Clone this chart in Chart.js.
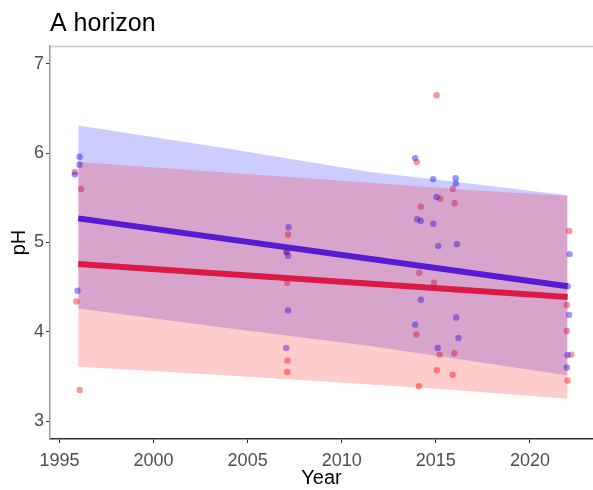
<!DOCTYPE html>
<html>
<head>
<meta charset="utf-8">
<script src="https://cdn.jsdelivr.net/npm/chart.js@4"></script>
<style>
html,body{margin:0;padding:0;background:#fff;overflow:hidden;}
#wrap{width:593px;height:490px;position:relative;}
canvas{display:block;}
</style>
</head>
<body>
<div id="wrap"><canvas id="c" width="593" height="490"></canvas></div>
<script>
// ---- data ----
const chartTitle = "A horizon";
const xTicks = [1995, 2000, 2005, 2010, 2015, 2020];
const yTicks = [3, 4, 5, 6, 7];

const fitYears = [1996, 2022];
const blueFit = [5.27, 4.51];
const redFit = [4.76, 4.39];

const bandYears = [1996, 2004, 2011.5, 2016, 2022];
const blueUpper = [6.31, 6.05, 5.79, 5.68, 5.53];
const blueLower = [4.26, 4.04, 3.84, 3.70, 3.51];
const redUpper = [5.90, 5.78, 5.67, 5.60, 5.52];
const redLower = [3.61, 3.51, 3.41, 3.35, 3.25];

const blueX = [1996.07, 1996.07, 1995.82, 1995.96,
  2007.18, 2007.05, 2007.15, 2007.15, 2007.05,
  2013.9, 2014.86, 2016.05, 2016.06, 2015.04, 2014.01, 2014.2, 2014.86, 2015.13, 2016.12, 2014.2, 2016.08, 2013.9, 2016.2, 2015.1,
  2022.1, 2022.0, 2022.08, 2022.0, 2021.96];
const blueY = [5.96, 5.87, 5.76, 4.46,
  5.17, 4.89, 4.85, 4.24, 3.82,
  5.945, 5.71, 5.72, 5.66, 5.51, 5.26, 5.24, 5.21, 4.96, 4.98, 4.36, 4.16, 4.08, 3.93, 3.82,
  4.87, 4.51, 4.19, 3.74, 3.60];

const redX = [1995.82, 1996.15, 1995.9, 1996.07,
  2007.15, 2007.1, 2007.1, 2007.12, 2007.1,
  2015.04, 2013.99, 2015.9, 2015.23, 2016.0, 2014.2, 2014.12, 2014.9, 2016.1, 2013.97, 2015.2, 2015.98, 2015.05, 2015.89, 2014.1,
  2022.08, 2021.96, 2021.96, 2022.2, 2022.0];
const redY = [5.79, 5.60, 4.34, 3.35,
  5.09, 4.90, 4.55, 3.68, 3.55,
  6.65, 5.90, 5.60, 5.49, 5.44, 5.40, 4.66, 4.55, 4.47, 3.97, 3.745, 3.76, 3.57, 3.52, 3.39,
  5.13, 4.30, 4.01, 3.745, 3.455];

// ---- build ----
const pts = (xs, ys) => xs.map((x, i) => ({x: x, y: ys[i]}));
const FONT = "'Liberation Sans', Arial, sans-serif";

const titlePlugin = {
  id: 'titleAndFrame',
  afterDraw(chart) {
    const ctx = chart.ctx, a = chart.chartArea;
    ctx.save();
    ctx.strokeStyle = '#c8c8c8';
    ctx.lineWidth = 1.5;
    ctx.beginPath();
    ctx.moveTo(a.left, a.top + 0.5);
    ctx.lineTo(chart.width, a.top + 0.5);
    ctx.stroke();
    ctx.fillStyle = '#000';
    ctx.font = "25px " + FONT;
    ctx.textBaseline = 'alphabetic';
    ctx.textAlign = 'left';
    ctx.fillText(chartTitle, a.left, 31);
    ctx.restore();
  }
};

new Chart(document.getElementById('c'), {
  type: 'scatter',
  data: {
    datasets: [
      { label: 'blue pts', data: pts(blueX, blueY), pointRadius: 3.2, pointBorderWidth: 0,
        backgroundColor: 'rgba(0,0,255,0.42)', showLine: false, order: 10 },
      { label: 'red pts', data: pts(redX, redY), pointRadius: 3.2, pointBorderWidth: 0,
        backgroundColor: 'rgba(255,0,0,0.42)', showLine: false, order: 10 },
      { label: 'blue upper', data: pts(bandYears, blueUpper), showLine: true, borderWidth: 0,
        pointRadius: 0, borderColor: 'rgba(0,0,0,0)', backgroundColor: 'rgba(0,0,255,0.2)',
        fill: 3, order: 6 },
      { label: 'blue lower', data: pts(bandYears, blueLower), showLine: true, borderWidth: 0,
        pointRadius: 0, borderColor: 'rgba(0,0,0,0)', fill: false, order: 6 },
      { label: 'red upper', data: pts(bandYears, redUpper), showLine: true, borderWidth: 0,
        pointRadius: 0, borderColor: 'rgba(0,0,0,0)', backgroundColor: 'rgba(255,0,0,0.2)',
        fill: 5, order: 5 },
      { label: 'red lower', data: pts(bandYears, redLower), showLine: true, borderWidth: 0,
        pointRadius: 0, borderColor: 'rgba(0,0,0,0)', fill: false, order: 5 },
      { label: 'blue fit', data: pts(fitYears, blueFit), showLine: true, borderWidth: 6,
        borderColor: '#561bd3', pointRadius: 0, fill: false, borderCapStyle: 'butt', order: 2 },
      { label: 'red fit', data: pts(fitYears, redFit), showLine: true, borderWidth: 6,
        borderColor: '#dc1a48', pointRadius: 0, fill: false, borderCapStyle: 'butt', order: 1 }
    ]
  },
  options: {
    responsive: false,
    animation: false,
    layout: { autoPadding: false, padding: { top: 46, left: 0, right: 0, bottom: 0 } },
    plugins: { legend: { display: false }, tooltip: { enabled: false }, title: { display: false } },
    scales: {
      x: {
        type: 'linear', position: 'bottom', min: 1994.5, max: 2023.35,
        afterBuildTicks: s => { s.ticks = xTicks.map(v => ({ value: v })); },
        afterFit: s => { s.height = 51; s.paddingLeft = 0; s.paddingRight = 0; },
        ticks: { color: '#4d4d4d', font: { size: 18, family: FONT }, padding: 7,
          autoSkip: false, maxRotation: 0, callback: v => String(v) },
        grid: { drawOnChartArea: false, drawTicks: true, tickLength: 4, tickColor: '#333', tickWidth: 1 },
        border: { display: true, color: '#333', width: 1.5 },
        title: { display: true, text: 'Year', color: '#000', font: { size: 20, family: FONT },
          padding: { top: 0, bottom: 0 } }
      },
      y: {
        type: 'linear', position: 'left', min: 2.8, max: 7.2,
        afterBuildTicks: s => { s.ticks = yTicks.map(v => ({ value: v })); },
        afterFit: s => { s.width = 50; s.paddingTop = 0; s.paddingBottom = 0; },
        ticks: { color: '#4d4d4d', font: { size: 18, family: FONT }, padding: 2,
          autoSkip: false, callback: v => String(v) },
        grid: { drawOnChartArea: false, drawTicks: true, tickLength: 4, tickColor: '#333', tickWidth: 1 },
        border: { display: true, color: '#999', width: 1.5 },
        title: { display: true, text: 'pH', color: '#000', font: { size: 20, family: FONT },
          padding: { top: 7, bottom: 0 } }
      }
    }
  },
  plugins: [titlePlugin]
});
</script>
</body>
</html>
